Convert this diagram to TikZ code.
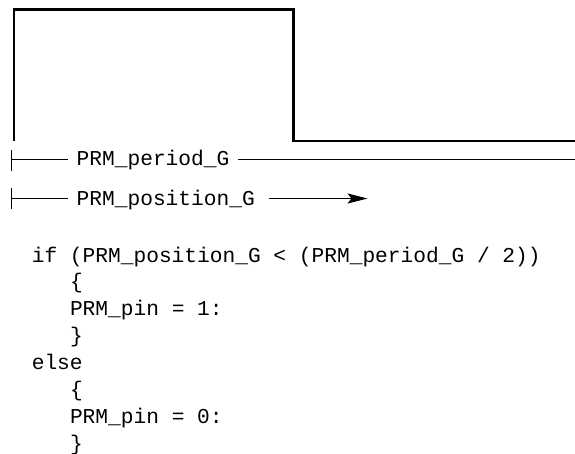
\documentclass[tikz,border=0pt]{standalone}
\usepackage{fontspec}
\setmonofont{Liberation Mono}
\usetikzlibrary{arrows.meta}
\begin{document}
\begin{tikzpicture}[x=1pt,y=-1pt,
  wave/.style={line width=2.4pt, line join=miter, line cap=butt},
  dim/.style={line width=1pt},
  mono/.style={font=\fontsize{21.2}{26.9}\selectfont\ttfamily, inner sep=0pt, anchor=base west}]
\useasboundingbox (0,0) rectangle (575,453);
% waveform
\coordinate (w0) at (14,140.7);
\coordinate (w1) at (14,9.3);
\coordinate (w2) at (293.4,9.3);
\coordinate (w3) at (293.4,140.7);
\coordinate (w4) at (576,140.7);
\draw[wave] (w0) -- (w1) -- (w2) -- (w3) -- (w4);
% period dimension
\node[mono] (per) at (76.5,165.7) {PRM\_period\_G};
\coordinate (pt1) at (11,150);
\coordinate (pt2) at (11,170.7);
\coordinate (pa) at (11,159.3);
\coordinate (pb) at (68.3,159.3);
\coordinate (pc) at (238,159.3);
\coordinate (pd) at (576,159.3);
\draw[dim] (pt1) -- (pt2);
\draw[dim] (pa) -- (pb);
\draw[dim] (pc) -- (pd);
% position dimension
\node[mono] (pos) at (76.5,205) {PRM\_position\_G};
\coordinate (qt1) at (11,188);
\coordinate (qt2) at (11,208.5);
\coordinate (qa) at (11,198.5);
\coordinate (qb) at (68.3,198.5);
\coordinate (qc) at (268.8,198.5);
\coordinate (qd) at (367.5,198.5);
\draw[dim] (qt1) -- (qt2);
\draw[dim] (qa) -- (qb);
\draw[dim,-{Stealth[length=20pt,width=10pt,inset=4pt]}] (qc) -- (qd);
% code
\node[mono] (c1) at (31.6,262) {if (PRM\_position\_G < (PRM\_period\_G / 2))};
\node[mono] (c2) at (69.8,288.9) {\{};
\node[mono] (c3) at (69.8,315.8) {PRM\_pin = 1:};
\node[mono] (c4) at (69.8,342.7) {\}};
\node[mono] (c5) at (31.6,369.6) {else};
\node[mono] (c6) at (69.8,396.5) {\{};
\node[mono] (c7) at (69.8,423.4) {PRM\_pin = 0:};
\node[mono] (c8) at (69.8,450.3) {\}};
\end{tikzpicture}
\end{document}
